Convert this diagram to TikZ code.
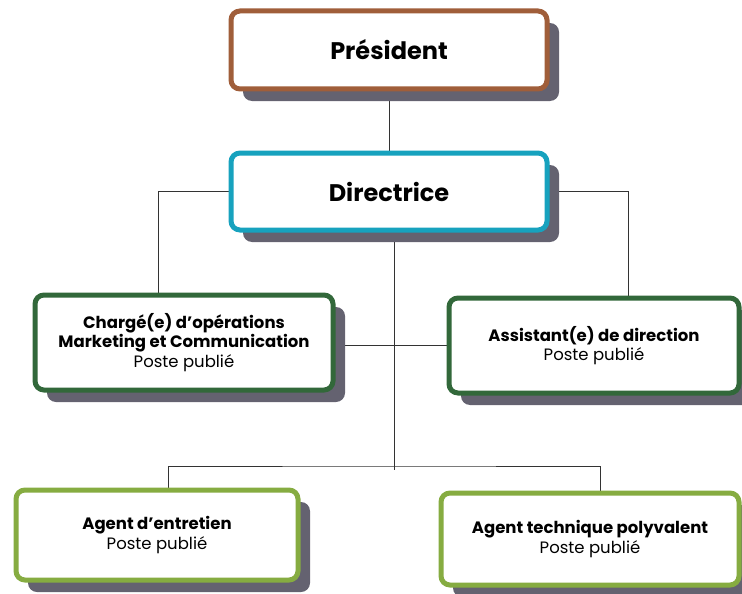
\documentclass[tikz,border=0pt]{standalone}
\usepackage{fontspec}
\setmainfont{Poppins}
\usetikzlibrary{shadows,backgrounds}

\definecolor{presbrown}{RGB}{160,94,58}
\definecolor{dirblue}{RGB}{23,162,190}
\definecolor{darkgreen}{RGB}{50,104,58}
\definecolor{lightgreen}{RGB}{134,172,65}
\definecolor{shadowgray}{RGB}{100,98,112}

\tikzset{
  postbox/.style={draw=#1, fill=white, line width=5pt, rounded corners=9pt,
    align=center, inner sep=2pt,
    general shadow={fill=shadowgray, shadow xshift=12pt, shadow yshift=-12pt}},
  title/.style={font=\fontsize{24}{28}\selectfont\bfseries},
  posttext/.style={font=\fontsize{16.5}{19.5}\selectfont},
  link/.style={draw=black!80, line width=0.8pt}
}
\newcommand{\poste}{\mdseries Poste publié}

\begin{document}
\begin{tikzpicture}[x=1pt,y=-1pt]
  \useasboundingbox (0,0) rectangle (742,594);

  % direction
  \node[postbox=presbrown, title, minimum width=316pt, minimum height=78pt] (pres) at (389,50) {Président};
  \node[postbox=dirblue, title, minimum width=316pt, minimum height=77pt] (dir) at (389,191.5) {Directrice};

  % postes
  \node[postbox=darkgreen, posttext, minimum width=298pt, minimum height=95pt] (charge) at (184,342.5)
    {\bfseries Chargé(e) d’opérations\\ \bfseries Marketing et Communication\\ \poste};
  \node[postbox=darkgreen, posttext, minimum width=290pt, minimum height=95pt] (assist) at (594,345.5)
    {\bfseries Assistant(e) de direction\\ \poste};
  \node[postbox=lightgreen, posttext, minimum width=282pt, minimum height=90pt] (entretien) at (157,535)
    {\bfseries Agent d’entretien\\ \poste};
  \node[postbox=lightgreen, posttext, minimum width=298pt, minimum height=92pt] (technique) at (590,539)
    {\bfseries Agent technique polyvalent\\ \poste};

  \coordinate (hub) at (394,470);
  \coordinate (bus) at (394,466);

  \begin{scope}[on background layer]
    \draw[link] (pres.south) -- (dir.north);
    \draw[link] (dir.west) -| ([xshift=-26pt]charge.north);
    \draw[link] (dir.east) -| ([xshift=34pt]assist.north);
    \draw[link] (dir.south -| hub) -- (hub);
    \draw[link] (assist.west) -- (assist.west -| charge.east);
    \draw[link] ([xshift=11pt]entretien.north) |- (bus) -| ([xshift=10pt]technique.north);
  \end{scope}
\end{tikzpicture}
\end{document}
